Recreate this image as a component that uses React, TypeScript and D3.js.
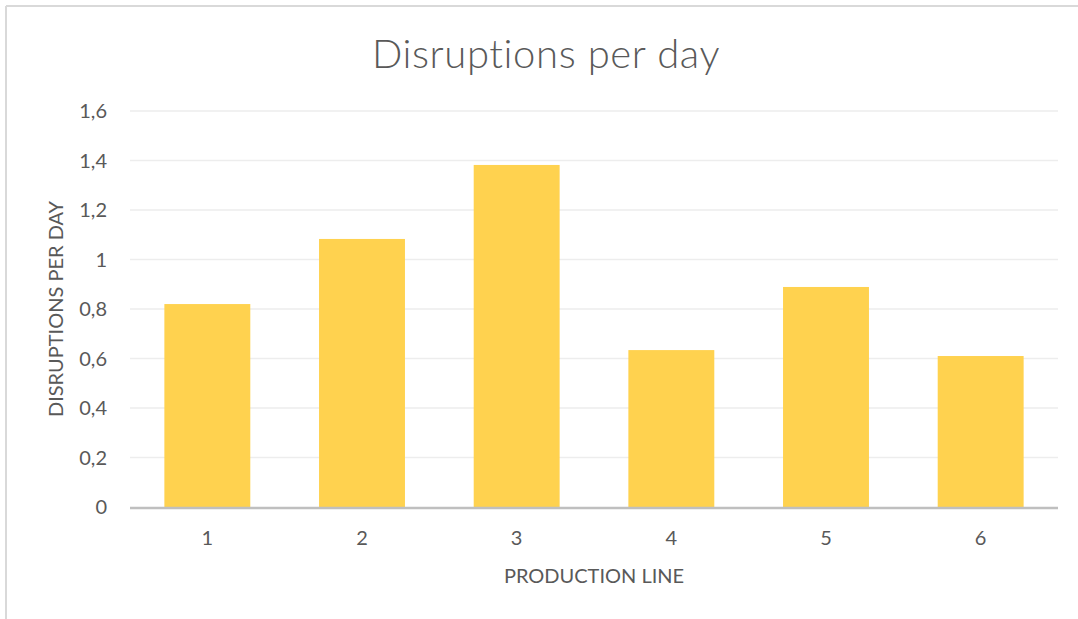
import React, { useEffect, useRef } from 'react';
import * as d3 from 'd3';

const lines = ['1', '2', '3', '4', '5', '6'];
const disruptions = [0.82, 1.083, 1.382, 0.634, 0.889, 0.61];
const yTicks = [0, 0.2, 0.4, 0.6, 0.8, 1, 1.2, 1.4, 1.6];

const W = 1078, H = 619;
const margin = { top: 111, right: 20, bottom: 112, left: 130 };

const Chart = () => {
  const ref = useRef<SVGGElement>(null);

  useEffect(() => {
    const root = d3.select(ref.current);
    root.selectAll('*').remove();
    const width = W - margin.left - margin.right;
    const height = H - margin.top - margin.bottom;
    const font = 'Lato, "Open Sans", sans-serif';

    const g = root.append('g').attr('transform', `translate(${margin.left},${margin.top})`);

    const x = d3.scaleBand().domain(lines).range([0, width]).paddingInner(0.8 / 1.8).paddingOuter(0.4 / 1.8);
    const y = d3.scaleLinear().domain([0, 1.6]).range([height, 0]);
    const fmt = (d: number) => String(+d.toFixed(1)).replace('.', ',');

    g.selectAll('line.grid')
      .data(yTicks.filter(t => t > 0))
      .enter().append('line')
      .attr('x1', 0).attr('x2', width)
      .attr('y1', d => y(d)).attr('y2', d => y(d))
      .attr('stroke', '#ededed').attr('stroke-width', 1.3);

    g.selectAll('text.ytick')
      .data(yTicks)
      .enter().append('text')
      .attr('x', -23).attr('y', d => y(d))
      .attr('dy', '0.35em')
      .attr('text-anchor', 'end')
      .attr('font-family', font).attr('font-size', 20).attr('fill', '#595959')
      .text(fmt);

    g.selectAll('rect.bar')
      .data(disruptions)
      .enter().append('rect')
      .attr('x', (d, i) => x(lines[i])!)
      .attr('y', d => y(d))
      .attr('width', x.bandwidth())
      .attr('height', d => y(0) - y(d))
      .attr('fill', '#ffd24f');

    g.append('line')
      .attr('x1', 0).attr('x2', width)
      .attr('y1', y(0) + 1).attr('y2', y(0) + 1)
      .attr('stroke', '#bfbfbf').attr('stroke-width', 2.5);

    g.selectAll('text.xtick')
      .data(lines)
      .enter().append('text')
      .attr('x', d => x(d)! + x.bandwidth() / 2)
      .attr('y', height + 38)
      .attr('text-anchor', 'middle')
      .attr('font-family', font).attr('font-size', 20).attr('fill', '#595959')
      .text(d => d);

    root.append('text')
      .attr('x', margin.left + width / 2).attr('y', 583)
      .attr('text-anchor', 'middle')
      .attr('font-family', font).attr('font-size', 20).attr('fill', '#595959')
      .text('PRODUCTION LINE');

    root.append('text')
      .attr('transform', `translate(63,${margin.top + height / 2}) rotate(-90)`)
      .attr('text-anchor', 'middle')
      .attr('font-family', font).attr('font-size', 20).attr('fill', '#595959')
      .text('DISRUPTIONS PER DAY');

    root.append('text')
      .attr('x', 546).attr('y', 68)
      .attr('text-anchor', 'middle')
      .attr('font-family', font).attr('font-weight', 300).attr('font-size', 40).attr('fill', '#595959')
      .style('letter-spacing', '0.6px')
      .text('Disruptions per day');
  }, []);

  return (
    <svg width={W} height={H} style={{ display: 'block' }}>
      {/* chart frame, only top and left edges fall inside the picture */}
      <line x1={6} y1={6} x2={W} y2={6} stroke="#d9d9d9" strokeWidth={2} />
      <line x1={6} y1={6} x2={6} y2={H} stroke="#d9d9d9" strokeWidth={2} />
      <g ref={ref} />
    </svg>
  );
};

export default function App() {
  return (
    <div style={{ position: 'absolute', left: 0, top: 0 }}>
      <Chart />
    </div>
  );
}
